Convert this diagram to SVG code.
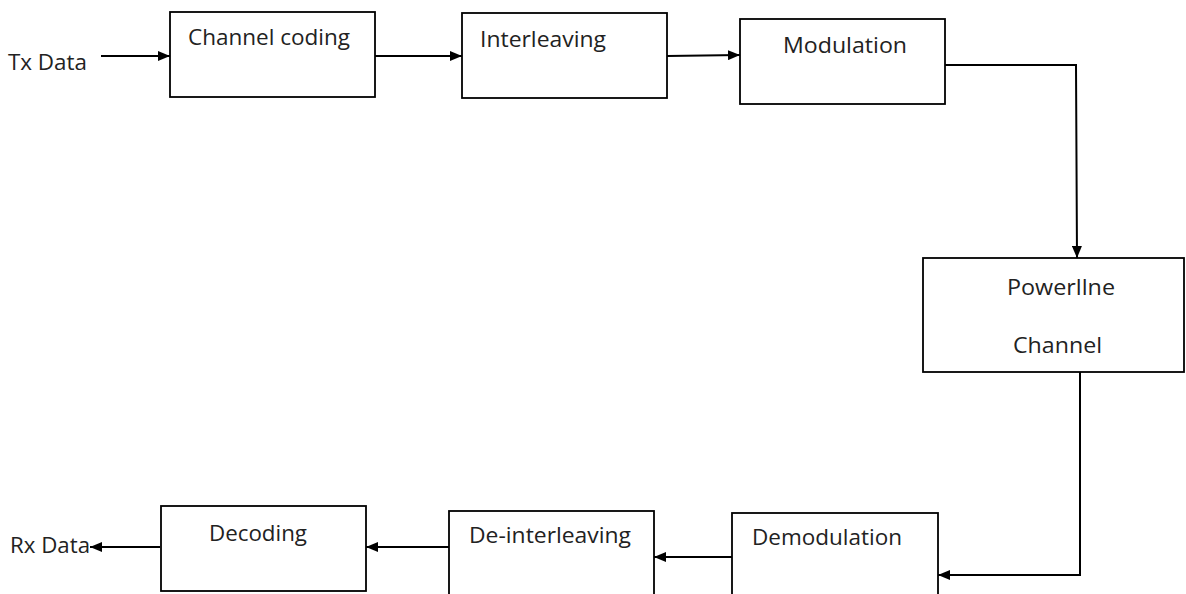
<svg xmlns="http://www.w3.org/2000/svg" width="1186" height="594" viewBox="0 0 1186 594">
<style>
rect.b{fill:#fff;stroke:#000;stroke-width:1.8}
text{font-family:"Open Sans","Liberation Sans",sans-serif;font-size:21.5px;fill:#222}
.c{fill:none;stroke:#000;stroke-width:2}
</style>
<defs>
<marker id="ah" markerWidth="12" markerHeight="10" refX="12" refY="5" orient="auto" markerUnits="userSpaceOnUse">
<path d="M0,0 L12,5 L0,10 z" fill="#000"/>
</marker>
</defs>
<rect width="1186" height="594" fill="#fff"/>
<text x="8" y="70" textLength="79" lengthAdjust="spacingAndGlyphs">Tx Data</text>
<text x="10" y="553" textLength="80" lengthAdjust="spacingAndGlyphs">Rx Data</text>
<g id="channel-coding"><rect class="b" x="170" y="12" width="205" height="85"/><text x="188" y="45" textLength="162" lengthAdjust="spacingAndGlyphs">Channel coding</text></g>
<g id="interleaving"><rect class="b" x="462" y="13" width="205" height="85"/><text x="480" y="47" textLength="126" lengthAdjust="spacingAndGlyphs">Interleaving</text></g>
<g id="modulation"><rect class="b" x="740" y="19" width="205" height="85"/><text x="783" y="53" textLength="124" lengthAdjust="spacingAndGlyphs">Modulation</text></g>
<g id="powerline-channel"><rect class="b" x="923" y="258" width="261" height="114"/><text x="1007" y="295" textLength="108" lengthAdjust="spacingAndGlyphs">Powerllne</text><text x="1013" y="353" textLength="89" lengthAdjust="spacingAndGlyphs">Channel</text></g>
<g id="demodulation"><rect class="b" x="732" y="513" width="206" height="90"/><text x="752" y="545" textLength="150" lengthAdjust="spacingAndGlyphs">Demodulation</text></g>
<g id="de-interleaving"><rect class="b" x="449" y="511" width="205" height="92"/><text x="469" y="543" textLength="162" lengthAdjust="spacingAndGlyphs">De-interleaving</text></g>
<g id="decoding"><rect class="b" x="161" y="506" width="205" height="85"/><text x="209" y="541" textLength="98" lengthAdjust="spacingAndGlyphs">Decoding</text></g>
<g id="connectors">
<path class="c" d="M101,56 L170,56" marker-end="url(#ah)"/>
<path class="c" d="M375,56 L462,56" marker-end="url(#ah)"/>
<path class="c" d="M667,56 L740,55" marker-end="url(#ah)"/>
<path class="c" d="M945,65 L1076,65 L1077,258" marker-end="url(#ah)"/>
<path class="c" d="M1080,372 L1080,575 L938,575" marker-end="url(#ah)"/>
<path class="c" d="M732,557 L654,557" marker-end="url(#ah)"/>
<path class="c" d="M449,547 L366,547" marker-end="url(#ah)"/>
<path class="c" d="M160,547 L90,547" marker-end="url(#ah)"/>
</g>
</svg>
